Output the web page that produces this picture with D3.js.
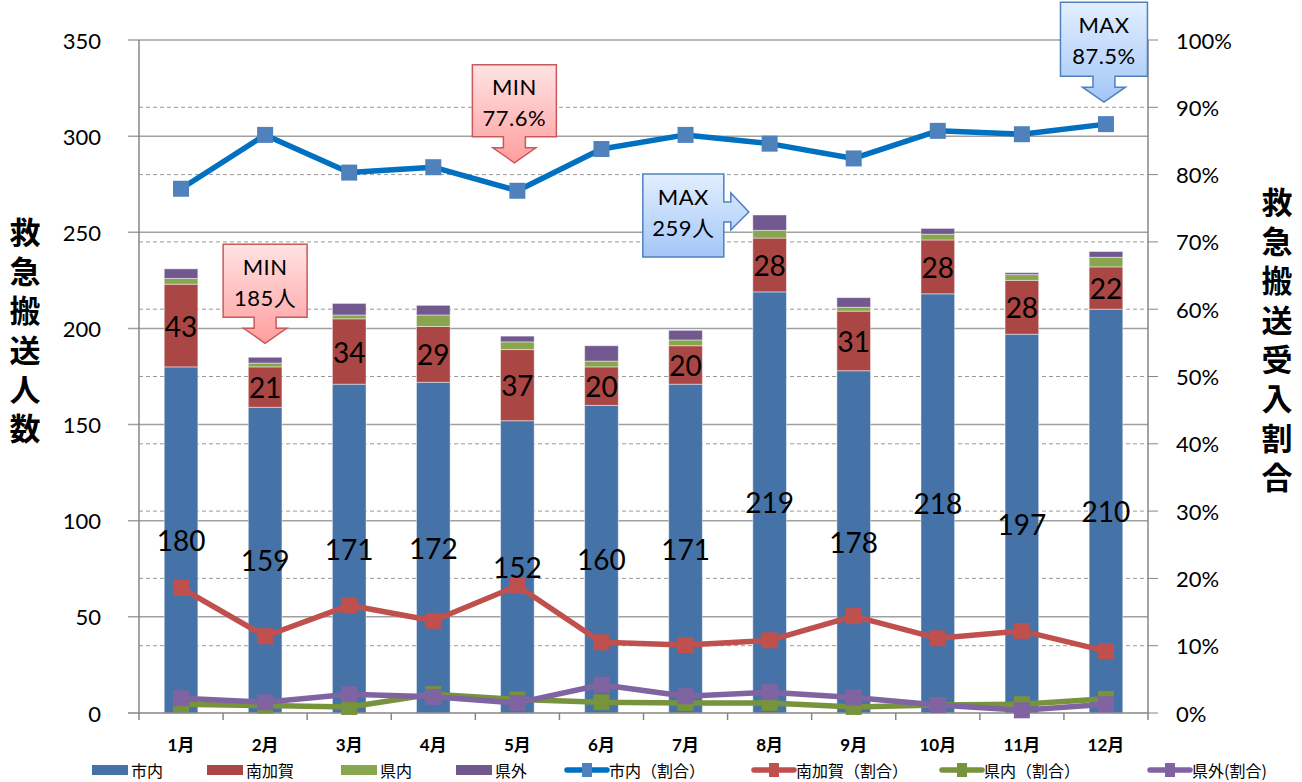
<!DOCTYPE html>
<meta charset="utf-8">
<style>
body { margin: 0; background: #fff; }
svg { display: block; }
.tick-label { font-family: Lato, "Noto Sans CJK JP", sans-serif; font-size: 22px; fill: #000; }
.axis-title { font-family: "Noto Sans CJK JP", sans-serif; font-size: 31px; font-weight: bold; fill: #000;
  writing-mode: vertical-rl; letter-spacing: 8.3px; }
.month { font-family: Lato, "Noto Sans CJK JP", sans-serif; font-size: 17px; font-weight: bold; fill: #000; }
.bar-label { font-family: Lato, sans-serif; font-size: 28px; fill: #000; }
.legend { font-family: "Noto Sans CJK JP", sans-serif; font-size: 16px; fill: #000; }
.callout-text { font-family: Lato, "Noto Sans CJK JP", sans-serif; font-size: 22px; fill: #000; letter-spacing: 0.5px; }
</style>
<svg width="1302" height="782"></svg>
<script src="https://d3js.org/d3.v7.min.js"></script>
<script>

// categories
const months = ["1月","2月","3月","4月","5月","6月","7月","8月","9月","10月","11月","12月"];

// counts (left axis, stacked bars)
const cityCount       = [180,159,171,172,152,160,171,219,178,218,197,210];
const minamiKagaCount = [43,21,34,29,37,20,20,28,31,28,28,22];
const prefCount       = [3,2,2,6,4,3,3,4,2,3,3,5];
const outsideCount    = [5,3,6,5,3,8,5,8,5,3,1,3];

// share of each group (right axis, %)
const cityRate       = [77.9,85.9,80.3,81.1,77.6,83.8,85.9,84.6,82.4,86.5,86.0,87.5];
const minamiKagaRate = [18.6,11.4,16.0,13.7,18.9,10.5,10.1,10.8,14.4,11.1,12.2,9.2];
const prefRate       = [1.3,1.1,0.9,2.8,2.0,1.6,1.5,1.5,0.9,1.2,1.3,2.1];
const outsideRate    = [2.2,1.6,2.8,2.4,1.5,4.2,2.5,3.1,2.3,1.2,0.4,1.3];

const leftTicks = [0,50,100,150,200,250,300,350];
const rightTicks = [0,10,20,30,40,50,60,70,80,90,100];

const barKeys = ["市内","南加賀","県内","県外"];
const barColors = {"市内":"#4572A7","南加賀":"#AA4643","県内":"#89A54E","県外":"#71588F"};
const lineKeys = ["市内（割合）","南加賀（割合）","県内（割合）","県外(割合)"];
const lineColors = ["#0070C0","#C0504D","#77933C","#8064A2"];
const markerColors = ["#4F81BD","#C0504D","#77933C","#8064A2"];

const plotLeft = 139, plotRight = 1148, plotTop = 40, plotBottom = 713;

const svg = d3.select("svg");

const x = d3.scaleBand().domain(months).range([plotLeft, plotRight]).paddingInner(0.6).paddingOuter(0.3);
const step = x.step();
const cx = function(m) { return x(m) + x.bandwidth() / 2; };
const yL = d3.scaleLinear().domain([0, 350]).range([plotBottom, plotTop]);
const yR = d3.scaleLinear().domain([0, 100]).range([plotBottom, plotTop]);

// gridlines
svg.append("g").selectAll("line")
  .data(rightTicks.filter(function(d) { return d > 0 && d < 100; }))
  .enter().append("line")
    .attr("x1", plotLeft).attr("x2", plotRight)
    .attr("y1", function(d) { return yR(d); }).attr("y2", function(d) { return yR(d); })
    .attr("stroke", "#9a9a9a").attr("stroke-width", 1).attr("stroke-dasharray", "4,3");
svg.append("g").selectAll("line")
  .data(leftTicks.filter(function(d) { return d > 0; }))
  .enter().append("line")
    .attr("x1", plotLeft - 11).attr("x2", plotRight)
    .attr("y1", function(d) { return yL(d); }).attr("y2", function(d) { return yL(d); })
    .attr("stroke", "#a0a0a0").attr("stroke-width", 1.5);

// stacked bars
const rows = months.map(function(m, i) {
  return {month: m, "市内": cityCount[i], "南加賀": minamiKagaCount[i], "県内": prefCount[i], "県外": outsideCount[i]};
});
const stacked = d3.stack().keys(barKeys)(rows);

svg.append("g").selectAll("g")
  .data(stacked)
  .enter().append("g")
    .attr("fill", function(d) { return barColors[d.key]; })
  .selectAll("rect")
  .data(function(d) { return d; })
  .enter().append("rect")
    .attr("x", function(d) { return x(d.data.month); })
    .attr("width", x.bandwidth())
    .attr("y", function(d) { return yL(d[1]); })
    .attr("height", function(d) { return yL(d[0]) - yL(d[1]); })
    .attr("stroke", "rgba(255,255,255,0.45)")
    .attr("stroke-width", 1);

// bar labels (市内, 南加賀)
[0, 1].forEach(function(k) {
  svg.append("g").selectAll("text")
    .data(stacked[k])
    .enter().append("text")
      .attr("class", "bar-label")
      .attr("x", function(d) { return cx(d.data.month); })
      .attr("y", function(d) { return (yL(d[0]) + yL(d[1])) / 2; })
      .attr("text-anchor", "middle")
      .attr("dominant-baseline", "central")
      .text(function(d) { return d[1] - d[0]; });
});

// axes
svg.append("line").attr("x1", plotLeft).attr("x2", plotLeft).attr("y1", plotTop).attr("y2", plotBottom)
  .attr("stroke", "#868686").attr("stroke-width", 1.5);
svg.append("line").attr("x1", plotRight).attr("x2", plotRight).attr("y1", plotTop).attr("y2", plotBottom)
  .attr("stroke", "#868686").attr("stroke-width", 1.5);
svg.append("line").attr("x1", plotLeft).attr("x2", plotRight).attr("y1", plotBottom).attr("y2", plotBottom)
  .attr("stroke", "#868686").attr("stroke-width", 1.5);

svg.append("g").selectAll("line")
  .data(rightTicks)
  .enter().append("line")
    .attr("x1", plotRight).attr("x2", plotRight + 10)
    .attr("y1", function(d) { return yR(d); }).attr("y2", function(d) { return yR(d); })
    .attr("stroke", "#868686").attr("stroke-width", 1);
svg.append("line").attr("x1", plotLeft - 11).attr("x2", plotLeft).attr("y1", plotBottom).attr("y2", plotBottom)
  .attr("stroke", "#868686").attr("stroke-width", 1.5);

// x ticks at category boundaries
const boundaries = months.map(function(m) { return x(m) - step * 0.3; }).concat([plotRight]);
svg.append("g").selectAll("line")
  .data(boundaries)
  .enter().append("line")
    .attr("x1", function(d) { return d; }).attr("x2", function(d) { return d; })
    .attr("y1", plotBottom).attr("y2", plotBottom + 7)
    .attr("stroke", "#868686").attr("stroke-width", 1.5);

svg.append("g").selectAll("text")
  .data(leftTicks)
  .enter().append("text")
    .attr("class", "tick-label")
    .attr("x", 101)
    .attr("y", function(d) { return yL(d); })
    .attr("text-anchor", "end")
    .attr("dominant-baseline", "central")
    .text(function(d) { return d; });

svg.append("g").selectAll("text")
  .data(rightTicks)
  .enter().append("text")
    .attr("class", "tick-label")
    .attr("x", 1176)
    .attr("y", function(d) { return yR(d); })
    .attr("dominant-baseline", "central")
    .text(function(d) { return d + "%"; });

svg.append("g").selectAll("text")
  .data(months)
  .enter().append("text")
    .attr("class", "month")
    .attr("x", function(d) { return cx(d); })
    .attr("y", 744)
    .attr("text-anchor", "middle")
    .attr("dominant-baseline", "central")
    .text(function(d) { return d; });

// axis titles, written top to bottom
svg.append("text").attr("class", "axis-title")
  .attr("x", 25).attr("y", 232 - 15.5)
  .text("救急搬送人数");
svg.append("text").attr("class", "axis-title")
  .attr("x", 1277).attr("y", 202 - 15.5)
  .text("救急搬送受入割合");

// ratio lines
const rateSeries = [cityRate, minamiKagaRate, prefRate, outsideRate];
const line = d3.line()
  .x(function(d, i) { return cx(months[i]); })
  .y(function(d) { return yR(d); });

rateSeries.forEach(function(series, k) {
  const g = svg.append("g");
  g.append("path")
    .attr("d", line(series))
    .attr("fill", "none")
    .attr("stroke", lineColors[k])
    .attr("stroke-width", 5.5)
    .attr("stroke-linejoin", "round");
  g.selectAll("rect")
    .data(series)
    .enter().append("rect")
      .attr("x", function(d, i) { return cx(months[i]) - 8; })
      .attr("y", function(d) { return yR(d) - 8; })
      .attr("width", 16).attr("height", 16)
      .attr("fill", markerColors[k]);
});

// callouts
const defs = svg.append("defs");
function gradient(id, c0, c1) {
  const lg = defs.append("linearGradient").attr("id", id)
    .attr("x1", 0).attr("y1", 0).attr("x2", 0).attr("y2", 1);
  lg.append("stop").attr("offset", "0%").attr("stop-color", c0);
  lg.append("stop").attr("offset", "100%").attr("stop-color", c1);
}
gradient("pinkGrad", "#FFE3E3", "#FF9E9E");
gradient("blueGrad", "#E2EFFF", "#A3C6F7");

// down-arrow callout whose tip sits at (tx, ty)
function downCallout(tx, ty, w, h, lines, fill, stroke) {
  const x0 = tx - w / 2, x1 = tx + w / 2;
  const y1 = ty - 26, y0 = y1 - h;
  const sy = y1 + 11;
  const p = d3.path();
  p.moveTo(x0, y0); p.lineTo(x1, y0); p.lineTo(x1, y1);
  p.lineTo(tx + 11, y1); p.lineTo(tx + 11, sy); p.lineTo(tx + 21.5, sy);
  p.lineTo(tx, ty); p.lineTo(tx - 21.5, sy); p.lineTo(tx - 11, sy);
  p.lineTo(tx - 11, y1); p.lineTo(x0, y1); p.closePath();
  svg.append("path").attr("d", p.toString())
    .attr("fill", "url(#" + fill + ")").attr("stroke", stroke).attr("stroke-width", 1.5);
  lines.forEach(function(t, i) {
    svg.append("text").attr("class", "callout-text")
      .attr("x", tx).attr("y", y0 + 22 + i * 31)
      .attr("text-anchor", "middle").attr("dominant-baseline", "central")
      .text(t);
  });
}

// right-arrow callout whose tip sits at (tx, ty)
function rightCallout(tx, ty, w, h, lines, fill, stroke) {
  const x1 = tx - 25, x0 = x1 - w;
  const y0 = ty - 38, y1 = y0 + h;
  const sx = x1 + 7;
  const p = d3.path();
  p.moveTo(x0, y0); p.lineTo(x1, y0); p.lineTo(x1, ty - 10);
  p.lineTo(sx, ty - 10); p.lineTo(sx, ty - 19); p.lineTo(tx, ty);
  p.lineTo(sx, ty + 18); p.lineTo(sx, ty + 10); p.lineTo(x1, ty + 10);
  p.lineTo(x1, y1); p.lineTo(x0, y1); p.closePath();
  svg.append("path").attr("d", p.toString())
    .attr("fill", "url(#" + fill + ")").attr("stroke", stroke).attr("stroke-width", 1.5);
  lines.forEach(function(t, i) {
    svg.append("text").attr("class", "callout-text")
      .attr("x", (x0 + x1) / 2).attr("y", y0 + 23 + i * 31)
      .attr("text-anchor", "middle").attr("dominant-baseline", "central")
      .text(t);
  });
}

const totals = rows.map(function(r) { return r["市内"] + r["南加賀"] + r["県内"] + r["県外"]; });
const minBar = d3.minIndex(totals), maxBar = d3.maxIndex(totals);
const minRate = d3.minIndex(cityRate), maxRate = d3.maxIndex(cityRate);

downCallout(cx(months[minBar]), yL(totals[minBar]) - 14, 84, 73,
  ["MIN", totals[minBar] + "人"], "pinkGrad", "#C9595A");
downCallout(cx(months[minRate]) - 3, yR(cityRate[minRate]) - 28, 84, 72,
  ["MIN", cityRate[minRate].toFixed(1) + "%"], "pinkGrad", "#C9595A");
downCallout(cx(months[maxRate]) - 2, yR(cityRate[maxRate]) - 22, 87, 74,
  ["MAX", cityRate[maxRate].toFixed(1) + "%"], "blueGrad", "#4F81BD");
rightCallout(x(months[maxBar]) - 4, yL(totals[maxBar]) - 3, 81, 83,
  ["MAX", totals[maxBar] + "人"], "blueGrad", "#4F81BD");

// legend
const legendY = 770;
const barLegendX = [92, 207, 341, 456];
barKeys.forEach(function(k, i) {
  svg.append("rect").attr("x", barLegendX[i]).attr("y", legendY - 5)
    .attr("width", 36).attr("height", 10).attr("fill", barColors[k]);
  svg.append("text").attr("class", "legend")
    .attr("x", barLegendX[i] + 39).attr("y", legendY)
    .attr("dominant-baseline", "central").text(k);
});
const lineLegendX = [567, 754, 942, 1150];
lineKeys.forEach(function(k, i) {
  const lx = lineLegendX[i];
  svg.append("line").attr("x1", lx).attr("x2", lx + 40)
    .attr("y1", legendY).attr("y2", legendY)
    .attr("stroke", lineColors[i]).attr("stroke-width", 5.5).attr("stroke-linecap", "round");
  svg.append("rect").attr("x", lx + 15).attr("y", legendY - 7)
    .attr("width", 10).attr("height", 14).attr("fill", markerColors[i]);
  svg.append("text").attr("class", "legend")
    .attr("x", lx + 42).attr("y", legendY)
    .attr("dominant-baseline", "central").text(k);
});
</script>
